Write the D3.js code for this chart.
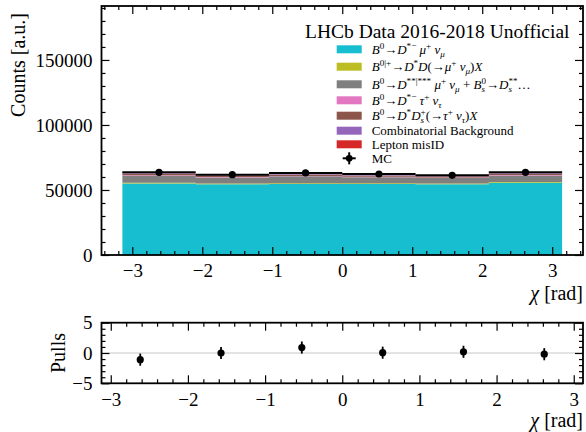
<!DOCTYPE html>
<html><head><meta charset="utf-8">
<script src="https://cdn.jsdelivr.net/npm/d3@7"></script>
<style>
body{margin:0;background:#fff}
svg{display:block}
text{font-family:"Liberation Serif","DejaVu Serif",serif;fill:#000}
</style>
</head><body>
<script>
// ---------- data ----------
const binEdges = [-3.1416, -2.0944, -1.0472, 0, 1.0472, 2.0944, 3.1416];
const binCenters = [-2.618, -1.571, -0.524, 0.524, 1.571, 2.618];
const componentNames = ["B0DstMuNu", "BDstD", "BDss", "BDstTauNu", "BDstDs", "Comb", "MisID"];
const cB0DstMuNu = [55000, 54500, 54600, 54600, 54500, 55600];
const cBDstD     = [600, 550, 600, 600, 550, 600];
const cBDss      = [5400, 4600, 5300, 4600, 4200, 5000];
const cBDstTauNu = [300, 300, 300, 300, 300, 300];
const cBDstDs    = [1300, 1100, 1200, 1100, 1100, 1200];
const cComb      = [500, 450, 600, 450, 450, 500];
const cMisID     = [400, 400, 400, 400, 400, 400];
const mcValues   = [63600, 61800, 63100, 62300, 61300, 63600];
const mcErrors   = [252, 249, 251, 250, 248, 252];
const pullValues = [-1.1, 0.0, 0.9, 0.05, 0.2, -0.2];
const pullErrors = [1, 1, 1, 1, 1, 1];
const xTicks = [-3, -2, -1, 0, 1, 2, 3];
const yTicks = [0, 50000, 100000, 150000];
const pullTicks = [-5, 0, 5];
const legendLabels = [
  "B^0→D^{*−} μ^+ ν_μ",
  "B^{0|+}→D^*D(→μ^+ ν_μ)X",
  "B^0→D^{**|***} μ^+ ν_μ + B_s^0→D_s^{**}…",
  "B^0→D^{*−} τ^+ ν_τ",
  "B^0→D^*D_s^+(→τ^+ ν_τ)X",
  "Combinatorial Background",
  "Lepton misID"
];
const colors = ["#17becf", "#bcbd22", "#7f7f7f", "#e377c2", "#8c564b", "#9467bd", "#d62728"];
const titleText = "LHCb Data 2016-2018 Unofficial";

// ---------- setup ----------
const W = 586, H = 432;
const svg = d3.select("body").append("svg").attr("width", W).attr("height", H);
const serif = '"Liberation Serif","DejaVu Serif",serif';

const xTop = d3.scaleLinear([-3.44, 3.44], [101.5, 583]);
const yTop = d3.scaleLinear([0, 191500], [255, 6]);
const xBot = d3.scaleLinear([-3.12, 3.12], [101.5, 583]);
const yBot = d3.scaleLinear([-5, 5], [383.3, 322.7]);

// stacked table
const series = [cB0DstMuNu, cBDstD, cBDss, cBDstTauNu, cBDstDs, cComb, cMisID];
const table = binCenters.map((c, i) => {
  const row = {i};
  componentNames.forEach((n, j) => row[n] = series[j][i]);
  return row;
});
const stacked = d3.stack().keys(componentNames)(table);

const gTop = svg.append("g");
const area = d3.area()
  .x(d => xTop(d.x)).y0(d => yTop(d.y0)).y1(d => yTop(d.y1))
  .curve(d3.curveStepAfter);
stacked.forEach((layer, j) => {
  const pts = layer.map((d, i) => ({x: binEdges[i], y0: d[0], y1: d[1]}));
  const last = layer[layer.length - 1];
  pts.push({x: binEdges[binEdges.length - 1], y0: last[0], y1: last[1]});
  gTop.append("path").attr("d", area(pts)).attr("fill", colors[j]).attr("stroke", "none");
});

// MC points
binCenters.forEach((c, i) => {
  gTop.append("line")
    .attr("x1", xTop(binEdges[i])).attr("x2", xTop(binEdges[i + 1]))
    .attr("y1", yTop(mcValues[i])).attr("y2", yTop(mcValues[i]))
    .attr("stroke", "#000").attr("stroke-width", 2);
  gTop.append("line")
    .attr("x1", xTop(c)).attr("x2", xTop(c))
    .attr("y1", yTop(mcValues[i] - mcErrors[i])).attr("y2", yTop(mcValues[i] + mcErrors[i]))
    .attr("stroke", "#000").attr("stroke-width", 2);
  gTop.append("circle").attr("cx", xTop(c)).attr("cy", yTop(mcValues[i])).attr("r", 3.6).attr("fill", "#000");
});

// ---------- axes helper ----------
const intFmt = d3.format("d");
function drawAxes(g, x, y, xMajor, xMinor, yMajor, yMinor) {
  const [x0, x1] = x.range(), [yb, yt] = y.range();
  const mk = (axis, tr, vals, size, labels) => {
    const a = axis.tickValues(vals).tickSizeInner(-size).tickSizeOuter(0).tickPadding(9)
      .tickFormat(labels ? intFmt : "");
    const ag = g.append("g").attr("transform", tr).call(a);
    ag.select(".domain").remove();
    ag.selectAll("line").attr("stroke", "#000").attr("stroke-width", 1.2);
    ag.selectAll("text").attr("font-family", serif).attr("font-size", 19).attr("fill", "#000");
    return ag;
  };
  mk(d3.axisBottom(x), `translate(0,${yb})`, xMajor, 8, true);
  mk(d3.axisBottom(x), `translate(0,${yb})`, xMinor, 4, false);
  mk(d3.axisTop(x), `translate(0,${yt})`, xMajor, 8, false);
  mk(d3.axisTop(x), `translate(0,${yt})`, xMinor, 4, false);
  mk(d3.axisLeft(y), `translate(${x0},0)`, yMajor, 8, true);
  mk(d3.axisLeft(y), `translate(${x0},0)`, yMinor, 4, false);
  mk(d3.axisRight(y), `translate(${x1},0)`, yMajor, 8, false);
  mk(d3.axisRight(y), `translate(${x1},0)`, yMinor, 4, false);
  g.append("rect").attr("x", x0).attr("y", yt).attr("width", x1 - x0).attr("height", yb - yt)
    .attr("fill", "none").attr("stroke", "#000").attr("stroke-width", 1.8);
}

const inRange = (sc, vals) => vals.filter(v => v >= sc.domain()[0] - 1e-9 && v <= sc.domain()[1] + 1e-9);
const xMinorTop = inRange(xTop, d3.range(-34, 35, 2).map(v => v / 10)).filter(v => !xTicks.includes(v));
const xMinorBot = inRange(xBot, d3.range(-34, 35, 2).map(v => v / 10)).filter(v => !xTicks.includes(v));
const yMinorTop = d3.range(10000, 190001, 10000).filter(v => !yTicks.includes(v));
const yMinorBot = d3.range(-4, 5, 1).filter(v => !pullTicks.includes(v));

drawAxes(svg.append("g"), xTop, yTop, xTicks, xMinorTop, yTicks, yMinorTop);

// ---------- bottom pulls ----------
const gBot = svg.append("g");
gBot.append("line").attr("x1", xBot.range()[0]).attr("x2", xBot.range()[1])
  .attr("y1", yBot(0)).attr("y2", yBot(0)).attr("stroke", "#c8c8c8").attr("stroke-width", 1);
binCenters.forEach((c, i) => {
  gBot.append("line").attr("x1", xBot(c)).attr("x2", xBot(c))
    .attr("y1", yBot(pullValues[i] - pullErrors[i])).attr("y2", yBot(pullValues[i] + pullErrors[i]))
    .attr("stroke", "#000").attr("stroke-width", 1.8);
  gBot.append("circle").attr("cx", xBot(c)).attr("cy", yBot(pullValues[i])).attr("r", 3.6).attr("fill", "#000");
});
drawAxes(svg.append("g"), xBot, yBot, xTicks, xMinorBot, pullTicks, yMinorBot);

// ---------- axis labels ----------
function chiLabel(xr, yb) {
  const t = svg.append("text").attr("x", xr).attr("y", yb).attr("text-anchor", "end")
    .attr("font-family", serif).attr("font-size", 20);
  t.append("tspan").attr("font-style", "italic").text("χ");
  t.append("tspan").text(" [rad]");
}
chiLabel(583, 300);
chiLabel(583, 427);

svg.append("text").attr("transform", "translate(25,13) rotate(-90)").attr("text-anchor", "end")
  .attr("font-family", serif).attr("font-size", 20).text("Counts [a.u.]");
svg.append("text").attr("transform", "translate(65,353) rotate(-90)").attr("text-anchor", "middle")
  .attr("font-family", serif).attr("font-size", 20).text("Pulls");

// ---------- legend ----------
svg.append("text").attr("x", 305).attr("y", 38).attr("font-family", serif).attr("font-size", 19.5).text(titleText);

function parseMath(str) {
  const segs = [];
  let i = 0;
  const push = (t, lvl) => {
    const last = segs[segs.length - 1];
    if (last && last.lvl === lvl && !last.explicit) last.t += t; else segs.push({t, lvl});
  };
  while (i < str.length) {
    const ch = str[i];
    if (ch === "^" || ch === "_") {
      const lvl = ch === "^" ? 1 : -1;
      let grp;
      if (str[i + 1] === "{") {
        const end = str.indexOf("}", i + 2);
        grp = str.slice(i + 2, end); i = end + 1;
      } else { grp = str[i + 1]; i += 2; }
      segs.push({t: grp, lvl, explicit: true});
    } else { push(ch, 0); i++; }
  }
  return segs;
}
const isLetter = c => /[A-Za-zμντχ]/.test(c);
function mathText(g, x, y, str, size) {
  const t = g.append("text").attr("x", x).attr("y", y).attr("font-family", serif).attr("font-size", size);
  if (!/[\^_→]/.test(str)) { t.text(str); return t; }
  const segs = parseMath(str);
  let cur = 0, prevSub = null;
  segs.forEach(s => {
    const fs = s.lvl === 0 ? size : size * 0.7;
    const target = s.lvl === 1 ? -0.4 * size : s.lvl === -1 ? 0.22 * size : 0;
    const runs = [];
    for (const c of s.t) {
      const it = isLetter(c);
      const l = runs[runs.length - 1];
      if (l && l.it === it) l.t += c; else runs.push({t: c, it});
    }
    let first = true, segLen = 0;
    runs.forEach(r => {
      const ts = t.append("tspan").attr("font-size", fs).attr("font-style", r.it ? "italic" : "normal").text(r.t);
      if (first) {
        ts.attr("dy", target - cur);
        if (s.lvl === 1 && prevSub) ts.attr("dx", -prevSub);
        cur = target; first = false;
      }
      segLen += ts.node().getComputedTextLength();
    });
    prevSub = s.lvl === -1 ? segLen : null;
  });
  return t;
}

const legRowY = [49.3, 66.7, 84.3, 100.3, 115.7, 130.7, 144.3];
legendLabels.forEach((lab, j) => {
  svg.append("rect").attr("x", 336.7).attr("y", legRowY[j] - 4).attr("width", 25).attr("height", 8).attr("fill", colors[j]);
  mathText(svg, 371.7, legRowY[j] + 4.5, lab, 13);
});
// MC entry
const mcY = 158.3, mcX = 349.2;
svg.append("line").attr("x1", mcX - 6.5).attr("x2", mcX + 6.5).attr("y1", mcY).attr("y2", mcY).attr("stroke", "#000").attr("stroke-width", 2);
svg.append("line").attr("x1", mcX).attr("x2", mcX).attr("y1", mcY - 6).attr("y2", mcY + 6).attr("stroke", "#000").attr("stroke-width", 2);
svg.append("circle").attr("cx", mcX).attr("cy", mcY).attr("r", 3.4).attr("fill", "#000");
svg.append("text").attr("x", 371.7).attr("y", mcY + 4.5).attr("font-family", serif).attr("font-size", 13).text("MC");
</script>
</body></html>
